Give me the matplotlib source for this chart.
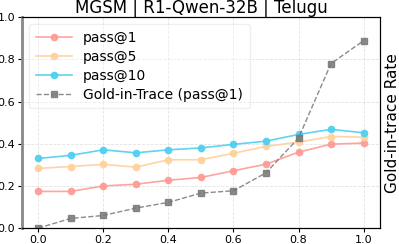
import numpy as np
import matplotlib
matplotlib.use("Agg")
import matplotlib.pyplot as plt

# Ratios on x axis
thresholds = [0.0, 0.1, 0.2, 0.3, 0.4, 0.5, 0.6, 0.7, 0.8, 0.9, 1.0]

# pass@k accuracies
pass_at_1 = [0.174, 0.174, 0.200, 0.208, 0.227, 0.240, 0.272, 0.303, 0.360, 0.398, 0.403]
pass_at_5 = [0.283, 0.292, 0.302, 0.289, 0.324, 0.324, 0.355, 0.387, 0.408, 0.434, 0.431]
pass_at_10 = [0.330, 0.345, 0.371, 0.357, 0.371, 0.380, 0.397, 0.412, 0.444, 0.468, 0.452]

# gold-in-trace rate (pass@1)
gold_in_trace = [0.0, 0.046, 0.060, 0.095, 0.122, 0.166, 0.177, 0.262, 0.427, 0.780, 0.888]

fig, ax = plt.subplots(figsize=(3.99, 2.44), dpi=100)
fig.subplots_adjust(left=0.055, right=0.952, top=0.93, bottom=0.065)

ax.plot(thresholds, pass_at_1, '-o', color='#ff9a94', linewidth=1.2, markersize=4.5, alpha=0.9, label='pass@1')
ax.plot(thresholds, pass_at_5, '-o', color='#ffd09a', linewidth=1.2, markersize=4.5, alpha=0.9, label='pass@5')
ax.plot(thresholds, pass_at_10, '-o', color='#4dcff0', linewidth=1.2, markersize=4.5, alpha=0.9, label='pass@10')
ax.set_ylim(0, 1.0)
ax.set_xlim(-0.05, 1.05)
ax.set_xticks([0.0, 0.2, 0.4, 0.6, 0.8, 1.0])
ax.set_yticks([0.0, 0.2, 0.4, 0.6, 0.8, 1.0])
ax.tick_params(labelsize=8, length=3, pad=2)
ax.grid(True, linestyle='--', alpha=0.35, linewidth=0.6)
ax.spines['left'].set_color('#888888')
ax.spines['left'].set_linewidth(2)

ax2 = ax.twinx()
ax2.plot(thresholds, gold_in_trace, '--s', color='#777777', linewidth=1.0, markersize=4, alpha=0.85,
         label='Gold-in-Trace (pass@1)')
ax2.set_ylim(0, 1.0)
ax2.set_yticks([])
ax2.set_ylabel('Gold-in-trace Rate', fontsize=11, labelpad=4)
ax2.spines['left'].set_visible(False)

h1, l1 = ax.get_legend_handles_labels()
h2, l2 = ax2.get_legend_handles_labels()
ax.legend(h1 + h2, l1 + l2, loc='upper left', fontsize=10, framealpha=0.3,
          handlelength=2.6, borderpad=0.5, labelspacing=0.35)

ax.set_title('MGSM | R1-Qwen-32B | Telugu', fontsize=12, pad=2)

plt.savefig('out.png', dpi=100)
